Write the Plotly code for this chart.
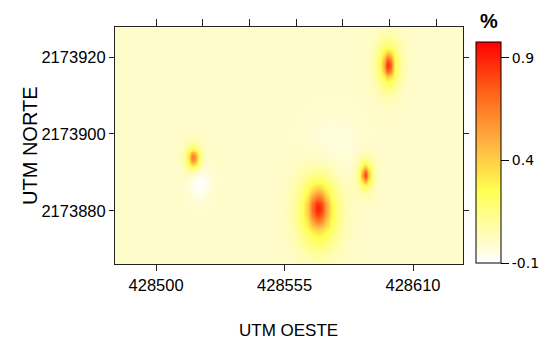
import numpy as np
import plotly.graph_objects as go

# ---- data ----
# hotspots of the interpolated surface (centre x, centre y, amplitude, spread in x / y)
spot_x = [428569.3, 428569.3, 428599.3, 428599.3, 428589.5, 428589.5,
          428515.8, 428515.8, 428518.5, 428575.0]
spot_y = [2173880.0, 2173880.8, 2173917.9, 2173917.9, 2173889.4, 2173889.4,
          2173893.8, 2173893.8, 2173887.5, 2173896.0]
spot_amp = [0.42, 0.48, 0.33, 0.52, 0.30, 0.50, 0.30, 0.36, -0.10, -0.04]
spot_sdx = [6.0, 2.6, 3.6, 1.4, 2.5, 1.1, 2.6, 1.3, 3.0, 8.0]
spot_sdy = [6.6, 3.0, 4.6, 2.0, 3.0, 1.5, 2.4, 1.4, 3.0, 6.0]
background = 0.0

x_range = [428482.4, 428631.4]
y_range = [2173866.2, 2173927.8]
x_ticks = [428500, 428555, 428610]
x_top_ticks = [428500, 428520, 428540, 428560, 428580, 428600, 428620]
y_ticks = [2173880, 2173900, 2173920]
cbar_ticks = [-0.1, 0.4, 0.9]
z_min, z_max = -0.1, 0.978

# ---- surface ----
gx = np.arange(x_range[0], x_range[1] + 0.5, 0.5)
gy = np.arange(y_range[0], y_range[1] + 0.5, 0.5)
X, Y = np.meshgrid(gx, gy)
Z = np.full(X.shape, background)
for cx, cy, a, sx, sy in zip(spot_x, spot_y, spot_amp, spot_sdx, spot_sdy):
    Z += a * np.exp(-((X - cx) ** 2 / (2 * sx * sx) + (Y - cy) ** 2 / (2 * sy * sy)))

colorscale = [
    [0.0, "#FFFFFF"],
    [0.093, "#FFFCCB"],
    [0.33, "#FFFF50"],
    [0.55, "#FFB040"],
    [0.78, "#FF6018"],
    [1.0, "#FF0000"],
]

sans = "Liberation Sans, Arial, sans-serif"

W, H = 552, 339
l, r, t, b = 107, 97, 19, 83
pw, ph = W - l - r, H - t - b


def px2paper(px, py):
    return (px - l) / pw, (H - b - py) / ph


fig = go.Figure()
fig.add_trace(go.Heatmap(
    x=gx, y=gy, z=Z, zmin=z_min, zmax=z_max, colorscale=colorscale,
    zsmooth="best", hoverinfo="skip",
    colorbar=dict(
        x=(468 - l) / pw, xanchor="left", xref="paper",
        y=(H - b - 34) / ph, yanchor="top", yref="paper",
        thickness=25, thicknessmode="pixels",
        len=221, lenmode="pixels",
        outlinecolor="black", outlinewidth=1,
        tickvals=cbar_ticks, ticktext=[str(v) for v in cbar_ticks],
        ticks="outside", ticklen=8, tickcolor="black",
        tickfont=dict(family="DejaVu Sans", size=14, color="black"),
        ypad=0, xpad=0,
    ),
))
fig.add_trace(go.Scatter(x=[], y=[], xaxis="x2", yaxis="y", showlegend=False))

ann = []
for text, (px, py), font, angle in [
    ("UTM OESTE", (280, 322), dict(family=sans, size=17, color="black"), 0),
    ("%", (481, 13), dict(family=sans, size=20, color="black", weight="bold"), 0),
    ("UTM NORTE", (22, 138), dict(family=sans, size=20, color="black"), -90),
]:
    ax, ay = px2paper(px, py)
    ann.append(dict(text=text, x=ax, y=ay, xref="paper", yref="paper",
                    xanchor="center", yanchor="middle", showarrow=False,
                    font=font, textangle=angle))

fig.update_layout(
    width=W, height=H,
    margin=dict(l=l, r=r, t=t, b=b),
    paper_bgcolor="white", plot_bgcolor="white",
    showlegend=False,
    xaxis=dict(
        range=x_range, tickvals=x_ticks, ticktext=[str(v) for v in x_ticks],
        ticks="outside", ticklen=6, tickcolor="#222", showgrid=False, zeroline=False,
        showline=True, linecolor="#222", linewidth=1, mirror=True,
        tickfont=dict(family=sans, size=16.5, color="black"),
    ),
    xaxis2=dict(
        range=x_range, overlaying="x", side="top", tickvals=x_top_ticks,
        showticklabels=False, ticks="outside", ticklen=7, tickcolor="#222",
        showgrid=False, zeroline=False, showline=False,
    ),
    yaxis=dict(
        range=y_range, tickvals=y_ticks, ticktext=[str(v) for v in y_ticks],
        ticks="outside", ticklen=5, tickcolor="#222", showgrid=False, zeroline=False,
        showline=True, linecolor="#222", linewidth=1, mirror="ticks",
        tickfont=dict(family=sans, size=16.5, color="black"),
    ),
    annotations=ann,
)

fig.write_html("out.html")
